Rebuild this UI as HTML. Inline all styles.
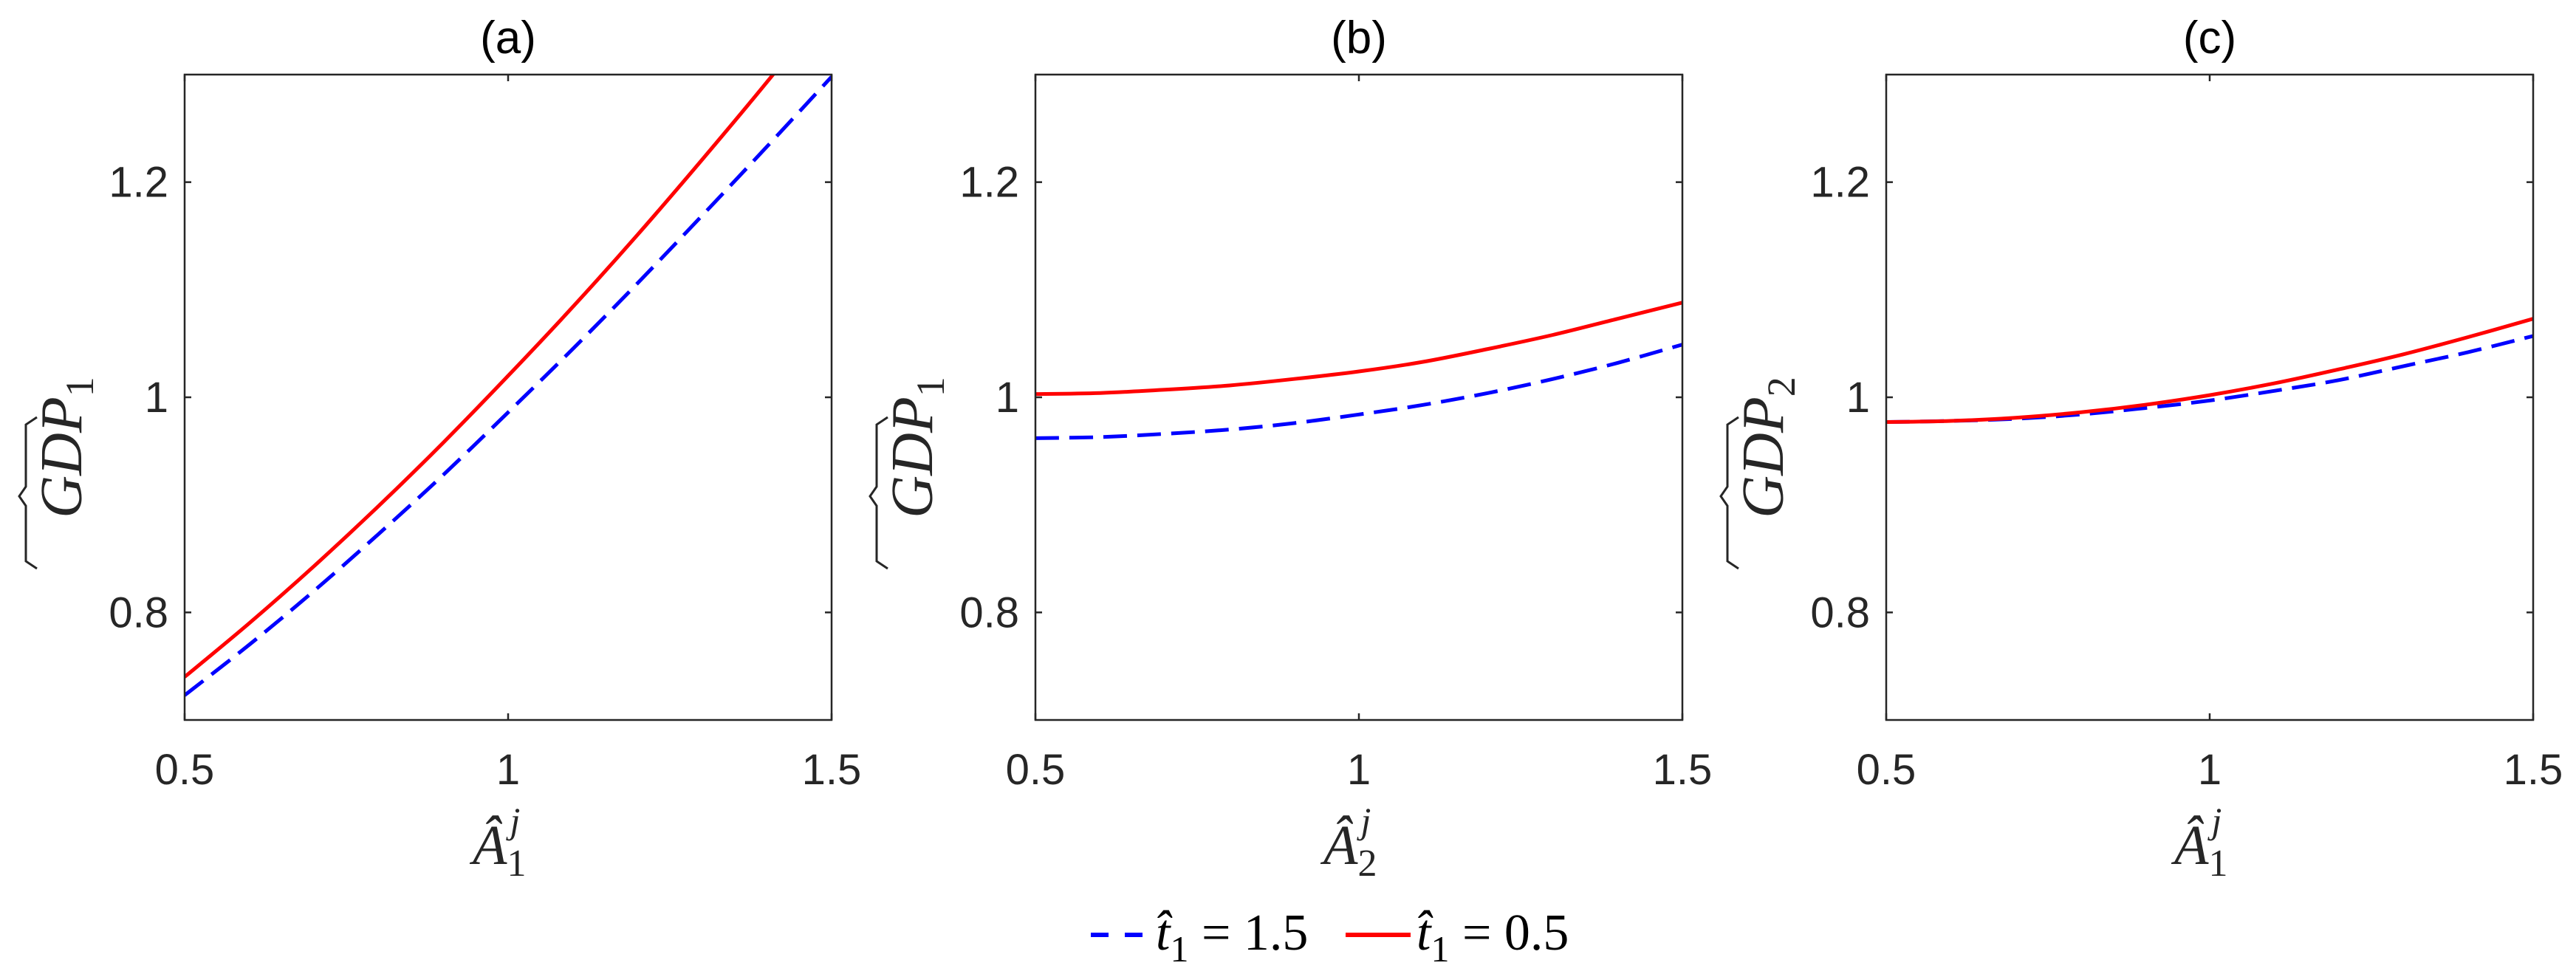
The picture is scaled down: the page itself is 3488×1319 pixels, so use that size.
<!DOCTYPE html>
<html><head><meta charset="utf-8"><style>
html,body{margin:0;padding:0;background:#fff;}
svg{display:block;}
</style></head><body>
<svg id="fig" width="3488" height="1319" viewBox="0 0 3488 1319" xmlns="http://www.w3.org/2000/svg"></svg>
<script>
const xValues = [0.5,0.6,0.7,0.8,0.9,1.0,1.1,1.2,1.3,1.4,1.5];
const xTicks = [0.5,1,1.5];
const xTickLabels = ['0.5','1','1.5'];
const yTicks = [0.8,1.0,1.2];
const yTickLabels = ['0.8','1','1.2'];
const panelTitles = ['(a)','(b)','(c)'];
const xLabelSubs = ['1','2','1'];
const yLabelSubs = ['1','1','2'];
const redA = [0.740,0.790,0.843,0.899,0.958,1.020,1.084,1.151,1.221,1.293,1.368];
const blueA = [0.723,0.770,0.820,0.873,0.928,0.986,1.045,1.106,1.169,1.233,1.298];
const redB = [1.003,1.004,1.007,1.011,1.017,1.024,1.033,1.045,1.058,1.073,1.088];
const blueB = [0.962,0.963,0.966,0.970,0.976,0.984,0.993,1.004,1.017,1.032,1.049];
const redC = [0.977,0.978,0.981,0.986,0.993,1.002,1.013,1.026,1.040,1.056,1.073];
const blueC = [0.977,0.978,0.980,0.984,0.990,0.997,1.006,1.016,1.029,1.042,1.057];
const redSeries = [redA, redB, redC];
const blueSeries = [blueA, blueB, blueC];

const NS='http://www.w3.org/2000/svg';
const svg=document.getElementById('fig');
function mk(tag, attrs, parent){const e=document.createElementNS(NS,tag);for(const k in attrs)e.setAttribute(k,attrs[k]);(parent||svg).appendChild(e);return e;}
function smooth(pts){
  let d='M'+pts[0][0].toFixed(1)+','+pts[0][1].toFixed(1);
  for(let i=0;i<pts.length-1;i++){
    const p0=pts[Math.max(0,i-1)],p1=pts[i],p2=pts[i+1],p3=pts[Math.min(pts.length-1,i+2)];
    const c1x=p1[0]+(p2[0]-p0[0])/6,c1y=p1[1]+(p2[1]-p0[1])/6;
    const c2x=p2[0]-(p3[0]-p1[0])/6,c2y=p2[1]-(p3[1]-p1[1])/6;
    d+=' C'+c1x.toFixed(1)+','+c1y.toFixed(1)+' '+c2x.toFixed(1)+','+c2y.toFixed(1)+' '+p2[0].toFixed(1)+','+p2[1].toFixed(1);
  }
  return d;
}
const lefts=[250,1402,2554], W=876, axTop=101, H=874;
const xmin=0.5,xmax=1.5,ymin=0.7,ymax=1.3;
const SANS='"Liberation Sans", Arial, sans-serif', SERIF='"Liberation Serif", "Times New Roman", serif';

for(let p=0;p<3;p++){
  const L=lefts[p];
  const sx=v=>L+(v-xmin)/(xmax-xmin)*W;
  const sy=v=>axTop+H-(v-ymin)/(ymax-ymin)*H;
  const g=mk('g',{});
  
  
  const cp=mk('clipPath',{id:'clip'+p},g);
  mk('rect',{x:L,y:axTop,width:W,height:H},cp);
  xTicks.forEach((t,i)=>{
    const x=sx(t);
    mk('line',{x1:x,y1:axTop+H,x2:x,y2:axTop+H-9,stroke:'#262626','stroke-width':2.5},g);
    mk('line',{x1:x,y1:axTop,x2:x,y2:axTop+9,stroke:'#262626','stroke-width':2.5},g);
    const tx=mk('text',{x:x,y:1062,'text-anchor':'middle','font-family':SANS,'font-size':58,fill:'#262626'},g);
    tx.textContent=xTickLabels[i];
    
    
  });
  yTicks.forEach((t,i)=>{
    const y=sy(t);
    mk('line',{x1:L,y1:y,x2:L+9,y2:y,stroke:'#262626','stroke-width':2.5},g);
    mk('line',{x1:L+W,y1:y,x2:L+W-9,y2:y,stroke:'#262626','stroke-width':2.5},g);
    const ty=mk('text',{x:L-22,y:y+20,'text-anchor':'end','font-family':SANS,'font-size':58,fill:'#262626'},g);
    ty.textContent=yTickLabels[i];
    
    
  });
  const bpts=xValues.map((x,i)=>[sx(x),sy(blueSeries[p][i])]);
  const bl=mk('path',{d:smooth(bpts),fill:'none',stroke:'#0000ff','stroke-width':5,'stroke-dasharray':'32 14','clip-path':'url(#clip'+p+')'},g);
  
  
  const rpts=xValues.map((x,i)=>[sx(x),sy(redSeries[p][i])]);
  const rl=mk('path',{d:smooth(rpts),fill:'none',stroke:'#ff0000','stroke-width':5,'clip-path':'url(#clip'+p+')'},g);
  
  
  mk('rect',{x:L,y:axTop,width:W,height:H,fill:'none',stroke:'#262626','stroke-width':2.5},g);
  const ti=mk('text',{x:L+W/2,y:72,'text-anchor':'middle','font-family':SANS,'font-size':62,fill:'#000'},g);
  ti.textContent=panelTitles[p];
  
  
  const xl=mk('text',{x:L+W/2-48,y:1170,'font-family':SERIF,'font-size':76,'font-style':'italic',fill:'#262626'},g);
  
  
  const a=mk('tspan',{},xl); a.textContent='Â';
  const s1=mk('tspan',{dy:16,'font-size':52,'font-style':'normal'},xl); s1.textContent=xLabelSubs[p];
  const s2=mk('tspan',{dx:-22,dy:-58,'font-size':50},xl); s2.textContent='j';
  const yl=mk('text',{x:0,y:0,'text-anchor':'middle','font-family':SERIF,'font-size':80,'font-style':'italic',fill:'#262626',transform:'translate('+(L-140)+',606) rotate(-90)'},g);
  
  
  const m=mk('tspan',{},yl); m.textContent='GDP';
  const ys=mk('tspan',{dy:16,'font-size':54,'font-style':'normal'},yl); ys.textContent=yLabelSubs[p];
  const hat=mk('path',{d:'M '+(L-200)+' 770 L '+(L-215)+' 760 L '+(L-215)+' 685 L '+(L-224)+' 672 L '+(L-215)+' 659 L '+(L-215)+' 575 L '+(L-200)+' 565',fill:'none',stroke:'#262626','stroke-width':3},g);
  
  
}
const lg=mk('g',{});


mk('line',{x1:1477,y1:1266,x2:1550,y2:1266,stroke:'#0000ff','stroke-width':6,'stroke-dasharray':'24 22'},lg);
const t1=mk('text',{x:1565,y:1286,'font-family':SERIF,'font-size':70,fill:'#000'},lg);


const ta=mk('tspan',{'font-style':'italic'},t1); ta.textContent='t̂';
const tb=mk('tspan',{dy:16,'font-size':50},t1); tb.textContent='1';
const tc=mk('tspan',{dy:-16},t1); tc.textContent=' = 1.5';
mk('line',{x1:1822,y1:1266,x2:1910,y2:1266,stroke:'#ff0000','stroke-width':6},lg);
const t2=mk('text',{x:1918,y:1286,'font-family':SERIF,'font-size':70,fill:'#000'},lg);


const ua=mk('tspan',{'font-style':'italic'},t2); ua.textContent='t̂';
const ub=mk('tspan',{dy:16,'font-size':50},t2); ub.textContent='1';
const uc=mk('tspan',{dy:-16},t2); uc.textContent=' = 0.5';
</script>
</body></html>
